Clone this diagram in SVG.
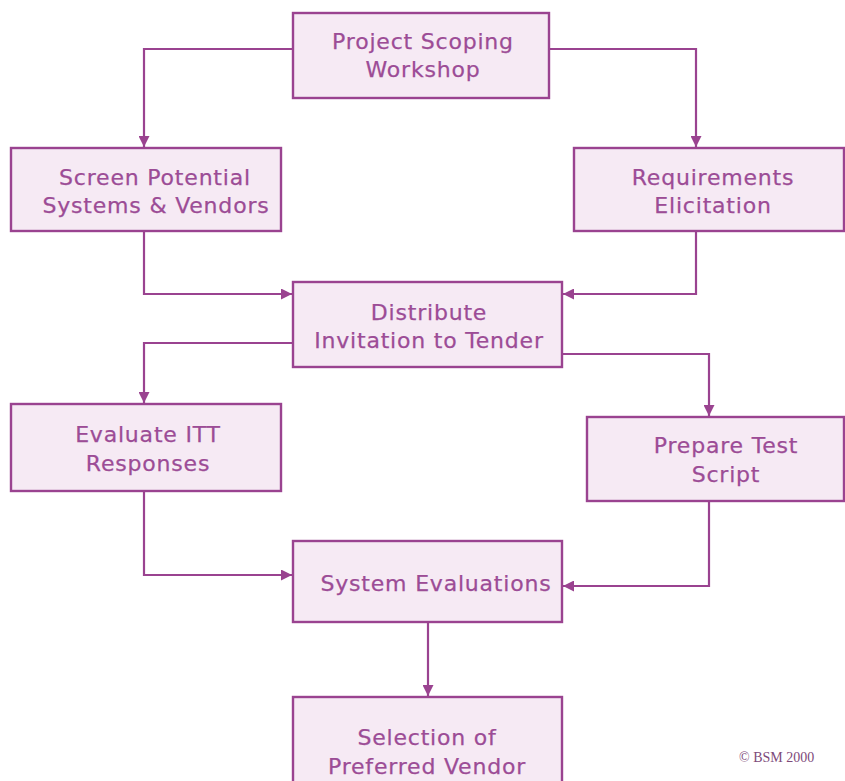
<svg xmlns="http://www.w3.org/2000/svg" width="845" height="781" viewBox="0 0 845 781">
  <style>
    .box { fill: #f6eaf4; stroke: #9a4390; stroke-width: 2.4; }
    .lbl { font-family: "DejaVu Sans", "Liberation Sans", sans-serif; font-size: 22px; fill: #9c4c96; stroke: #9c4c96; stroke-width: 0.25; text-anchor: middle; letter-spacing: 0.8px; }
    .wire { fill: none; stroke: #9a4390; stroke-width: 2.2; marker-end: url(#tip); }
    .copy { font-family: "Liberation Serif", serif; font-size: 14px; fill: #7e4a7a; }
  </style>
  <defs>
    <marker id="tip" viewBox="0 0 10 10" refX="10" refY="5" markerWidth="5" markerHeight="5" orient="auto" markerUnits="strokeWidth">
      <path d="M0,0 L10,5 L0,10 Z" fill="#9a4390"/>
    </marker>
  </defs>
  <rect width="845" height="781" fill="#ffffff"/>

  <g id="connectors">
    <path class="wire" d="M293,49 H144 V147"/>
    <path class="wire" d="M549,49 H696 V147"/>
    <path class="wire" d="M144,231 V294 H292"/>
    <path class="wire" d="M696,231 V294 H563"/>
    <path class="wire" d="M293,343 H144 V403"/>
    <path class="wire" d="M562,354 H709 V416"/>
    <path class="wire" d="M144,491 V575 H292"/>
    <path class="wire" d="M709,501 V586 H563"/>
    <path class="wire" d="M428,622 V696"/>
  </g>

  <g id="project-scoping">
    <rect class="box" x="293" y="13" width="256" height="85"/>
    <text class="lbl" x="423" y="49">Project Scoping</text>
    <text class="lbl" x="423" y="77">Workshop</text>
  </g>

  <g id="screen-systems">
    <rect class="box" x="11" y="148" width="270" height="83"/>
    <text class="lbl" x="155" y="185">Screen Potential</text>
    <text class="lbl" x="156" y="213">Systems &amp; Vendors</text>
  </g>

  <g id="requirements">
    <rect class="box" x="574" y="148" width="270" height="83"/>
    <text class="lbl" x="713" y="185">Requirements</text>
    <text class="lbl" x="713" y="213">Elicitation</text>
  </g>

  <g id="distribute-itt">
    <rect class="box" x="293" y="282" width="269" height="85"/>
    <text class="lbl" x="429" y="320">Distribute</text>
    <text class="lbl" x="429" y="348">Invitation to Tender</text>
  </g>

  <g id="evaluate-itt">
    <rect class="box" x="11" y="404" width="270" height="87"/>
    <text class="lbl" x="148" y="442">Evaluate ITT</text>
    <text class="lbl" x="148" y="471">Responses</text>
  </g>

  <g id="prepare-test">
    <rect class="box" x="587" y="417" width="257" height="84"/>
    <text class="lbl" x="726" y="453">Prepare Test</text>
    <text class="lbl" x="726" y="482">Script</text>
  </g>

  <g id="system-evaluations">
    <rect class="box" x="293" y="541" width="269" height="81"/>
    <text class="lbl" x="436" y="591">System Evaluations</text>
  </g>

  <g id="preferred-vendor">
    <rect class="box" x="293" y="697" width="269" height="86"/>
    <text class="lbl" x="427" y="745">Selection of</text>
    <text class="lbl" x="427" y="774">Preferred Vendor</text>
  </g>

  <text class="copy" x="739" y="762">© BSM 2000</text>
</svg>
